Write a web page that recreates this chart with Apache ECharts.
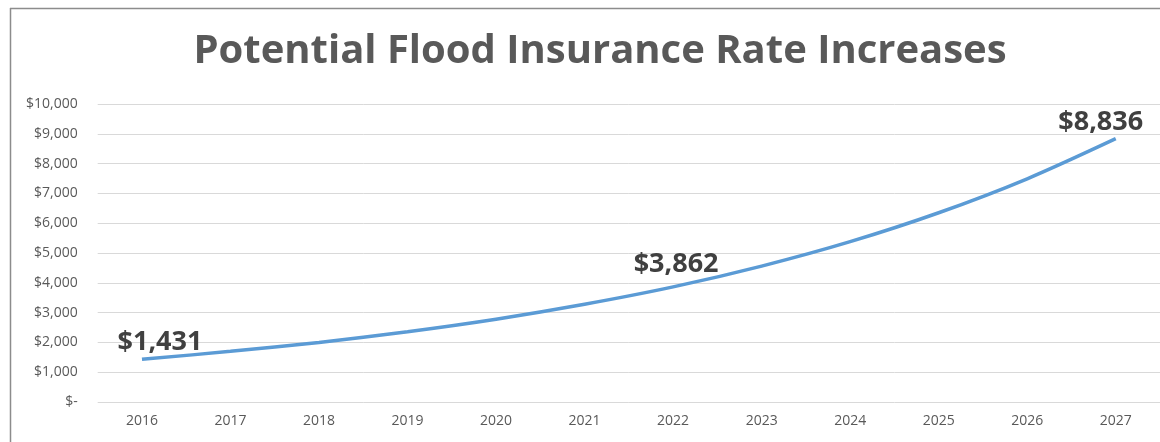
<!DOCTYPE html>
<html><head><meta charset="utf-8">
<script src="https://cdn.jsdelivr.net/npm/echarts@6/dist/echarts.min.js"></script>
<style>html,body{margin:0;padding:0;background:#fff}#c{width:1160px;height:442px}</style>
</head><body><div id="c"></div>
<script>
const categories = ['2016','2017','2018','2019','2020','2021','2022','2023','2024','2025','2026','2027'];
const rates = [1431, 1700, 2000, 2360, 2780, 3280, 3862, 4560, 5380, 6350, 7490, 8836];
const labelled = [0, 6, 11];
const labelOffsets = {0: [18, 2], 6: [3, -4], 11: [-15, 3]};
const titleText = 'Potential Flood Insurance Rate Increases';

const chart = echarts.init(document.getElementById('c'));
const fmt = v => v === 0 ? '$-' : '$' + v.toLocaleString('en-US');
chart.setOption({
  animation: false,
  title: {text: titleText, left: 595, textAlign: 'center', top: 27,
    textStyle: {fontFamily: 'Open Sans', fontWeight: 'bold', fontSize: 40, color: '#595959'}},
  grid: {left: 97.7, right: 0, top: 104, bottom: 40, containLabel: false},
  xAxis: {type: 'category', data: categories, boundaryGap: true,
    axisLine: {show: false}, axisTick: {show: false},
    axisLabel: {color: '#595959', fontFamily: 'Open Sans', fontSize: 14, margin: 12}},
  yAxis: {type: 'value', min: 0, max: 10000, interval: 1000,
    axisLine: {show: false}, axisTick: {show: false},
    splitLine: {lineStyle: {color: '#D9D9D9', width: 1}},
    axisLabel: {color: '#595959', fontFamily: 'Open Sans', fontSize: 14, margin: 20, formatter: fmt}},
  series: [{type: 'line', smooth: 0.3, symbol: 'circle', symbolSize: 1, showSymbol: true,
    itemStyle: {color: 'rgba(91,155,213,0)'},
    lineStyle: {color: '#5B9BD5', width: 3.5},
    label: {show: false},
    data: rates.map((v, i) => labelled.includes(i) ? {value: v, label: {show: true, position: 'top',
      offset: labelOffsets[i], formatter: fmt(v), fontFamily: 'Open Sans', fontWeight: 'bold', fontSize: 27, color: '#404040'}} : v)
  }],
  graphic: [
    {type: 'line', shape: {x1: 10.5, y1: 8, x2: 10.5, y2: 442}, style: {stroke: '#8C8C8C', lineWidth: 1.5}},
    {type: 'line', shape: {x1: 10, y1: 8.5, x2: 1160, y2: 8.5}, style: {stroke: '#8C8C8C', lineWidth: 1.5}}
  ]
});
</script></body></html>
